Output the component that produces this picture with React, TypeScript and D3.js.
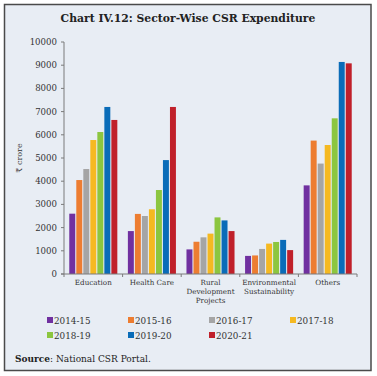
import React from "react";
import * as d3 from "d3";

const categories = [["Education"], ["Health Care"], ["Rural", "Development", "Projects"], ["Environmental", "Sustainability"], ["Others"]];
const years = ["2014-15", "2015-16", "2016-17", "2017-18", "2018-19", "2019-20", "2020-21"];
const colors = ["#7030a0", "#ed7d31", "#a5a5a5", "#f5b921", "#8cc63f", "#0a6cb8", "#c0202a"];
const v2014 = [2600, 1850, 1060, 780, 3820];
const v2015 = [4050, 2590, 1390, 800, 5750];
const v2016 = [4525, 2500, 1580, 1080, 4760];
const v2017 = [5775, 2790, 1740, 1310, 5560];
const v2018 = [6120, 3620, 2440, 1380, 6710];
const v2019 = [7200, 4910, 2310, 1470, 9140];
const v2020 = [6640, 7200, 1850, 1030, 9080];
const series = [v2014, v2015, v2016, v2017, v2018, v2019, v2020];
const yTicks = [0, 1000, 2000, 3000, 4000, 5000, 6000, 7000, 8000, 9000, 10000];

const FONT = "'DejaVu Serif', serif";

export default function App() {
  const W = 377, H = 376;
  const left = 64, right = 357, top = 42, bottom = 274;
  const x0 = d3.scaleBand<number>().domain(d3.range(categories.length)).range([left, right]).paddingInner(0.18).paddingOuter(0.09);
  const x1 = d3.scaleBand<number>().domain(d3.range(years.length)).range([0, x0.bandwidth()]).paddingInner(0.15);
  const y = d3.scaleLinear().domain([0, 10000]).range([bottom, top]);
  const step = (right - left) / categories.length;

  const legendX = [47, 128, 209, 290];
  const legendY = [322, 337];

  return (
    <svg width={W} height={H} style={{ position: "absolute", left: 0, top: 0 }} fontFamily={FONT}>
      <rect x={0} y={0} width={W} height={H} fill="#ffffff" />
      <rect x={4.5} y={4.5} width={366.5} height={366} fill="#e8edf4" stroke="#4a4a4a" strokeWidth={1.5} />
      <text x={188} y={22} textAnchor="middle" fontSize={10.8} fontWeight="bold" fill="#222">
        Chart IV.12: Sector-Wise CSR Expenditure
      </text>
      {/* y axis */}
      <line x1={left} x2={left} y1={top} y2={bottom} stroke="#7a7a7a" strokeWidth={1} />
      {yTicks.map((t) => (
        <g key={t}>
          <line x1={left - 3} x2={left} y1={y(t)} y2={y(t)} stroke="#7a7a7a" />
          <text x={left - 7} y={y(t) + 3} textAnchor="end" fontSize={8.6} fill="#333">{t}</text>
        </g>
      ))}
      <text transform={`translate(22,${(top + bottom) / 2}) rotate(-90)`} textAnchor="middle" fontSize={8} fill="#333">₹ crore</text>
      {/* bars */}
      {series.map((vals, si) =>
        vals.map((v, ci) => (
          <rect key={`${si}-${ci}`} x={(x0(ci) as number) + (x1(si) as number)} y={y(v)} width={x1.bandwidth()} height={bottom - y(v)} fill={colors[si]} />
        ))
      )}
      {/* x axis */}
      <line x1={left - 3} x2={right} y1={bottom} y2={bottom} stroke="#7a7a7a" />
      {d3.range(categories.length + 1).map((i) => (
        <line key={i} x1={left + i * step} x2={left + i * step} y1={bottom} y2={bottom + 3} stroke="#7a7a7a" />
      ))}
      {categories.map((lines, ci) => (
        <text key={ci} x={left + (ci + 0.5) * step} y={bottom + 11} textAnchor="middle" fontSize={7.2} fill="#333">
          {lines.map((l, li) => (
            <tspan key={li} x={left + (ci + 0.5) * step} dy={li === 0 ? 0 : 9}>{l}</tspan>
          ))}
        </text>
      ))}
      {/* legend */}
      {years.map((yr, i) => {
        const lx = legendX[i % 4];
        const ly = legendY[Math.floor(i / 4)];
        return (
          <g key={yr}>
            <rect x={lx} y={ly - 5} width={6} height={6} fill={colors[i]} />
            <text x={lx + 7} y={ly + 1.5} fontSize={8.8} fill="#333">{yr}</text>
          </g>
        );
      })}
      <text x={15} y={362} fontSize={9} fill="#222">
        <tspan fontWeight="bold">Source</tspan>: National CSR Portal.
      </text>
    </svg>
  );
}
